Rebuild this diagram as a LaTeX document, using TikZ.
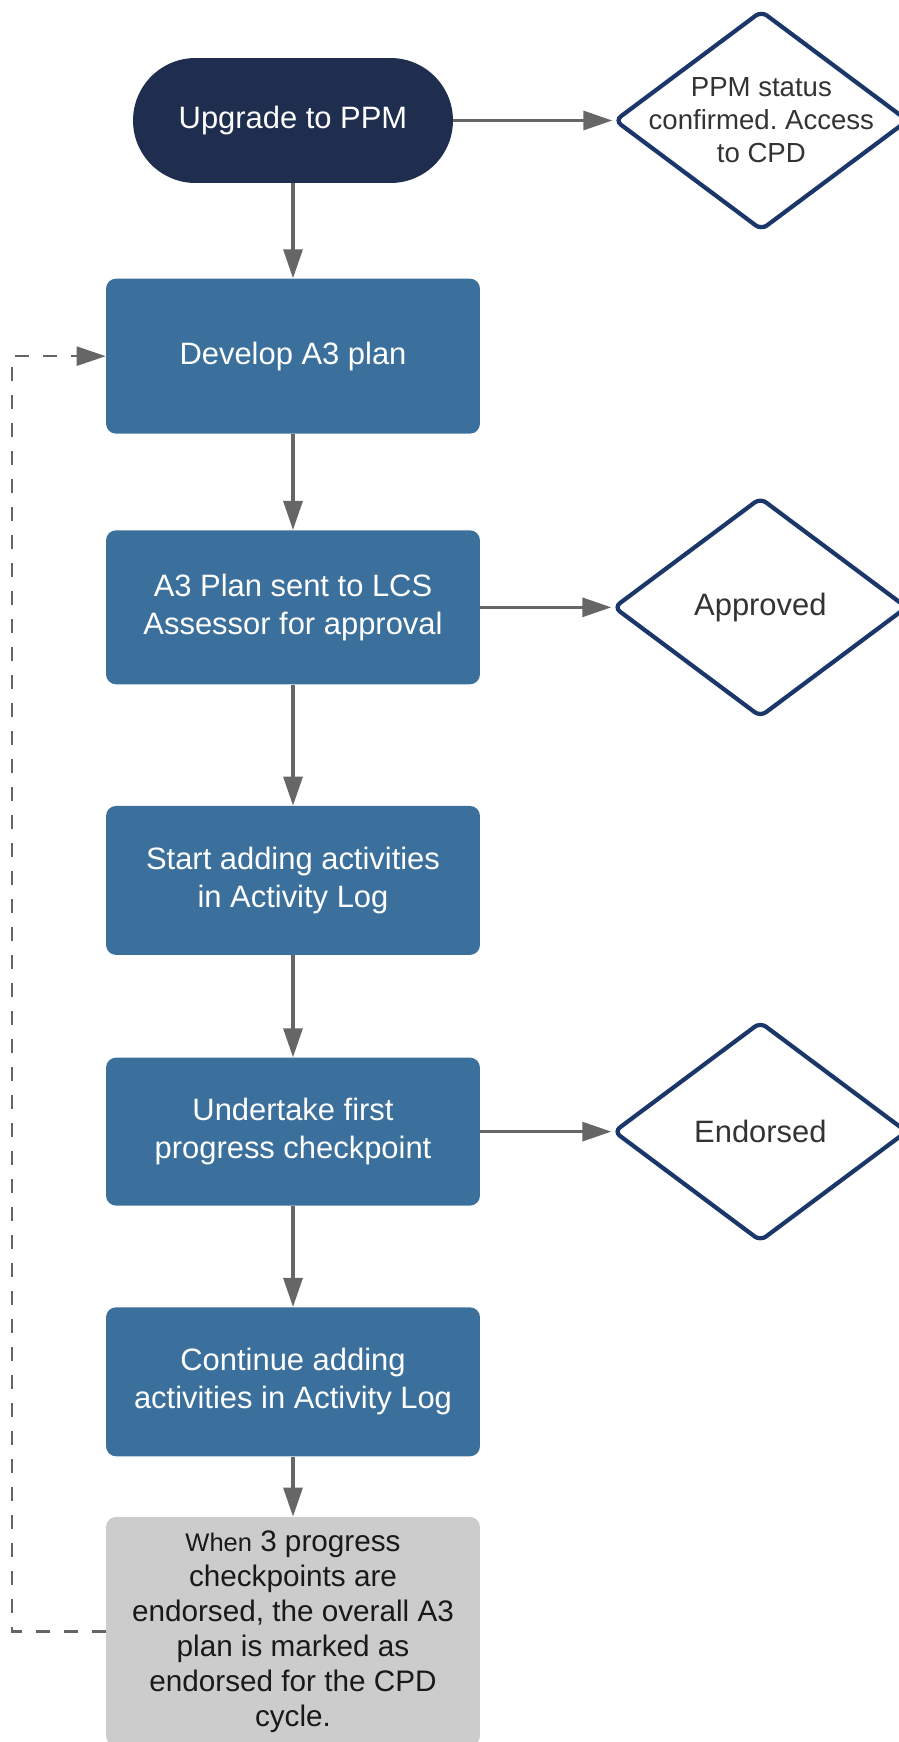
\documentclass[tikz,border=0pt]{standalone}
\usepackage{fontspec}
\setmainfont{Liberation Sans}
\usetikzlibrary{positioning,shapes.geometric,arrows.meta}
\frenchspacing

\definecolor{termnavy}{RGB}{31,45,79}
\definecolor{stepblue}{RGB}{60,112,156}
\definecolor{diaborder}{RGB}{27,55,105}
\definecolor{notegrey}{RGB}{204,204,204}
\definecolor{linegrey}{RGB}{102,102,102}

\tikzstyle{terminal} = [rectangle, rounded corners=1.25cm, fill=termnavy, text=white, minimum width=6.4cm, minimum height=2.5cm, font=\fontsize{17.6}{21.6}\selectfont]
\tikzstyle{process} = [rectangle, rounded corners=0.2cm, fill=stepblue, text=white, align=center, minimum width=7.48cm, font=\fontsize{17.6}{21.6}\selectfont]
\tikzstyle{note} = [rectangle, rounded corners=0.2cm, fill=notegrey, text=black!90, align=center, minimum width=7.48cm, inner sep=2pt, font=\fontsize{16.9}{19.9}\selectfont]
\tikzstyle{decision} = [diamond, draw=diaborder, line width=2.4pt, rounded corners=4pt, fill=white, minimum width=5.88cm, minimum height=4.4cm, inner sep=0pt]
\tikzstyle{dtext} = [align=center, text=black!80, font=\fontsize{17.6}{21.6}\selectfont]
\tikzstyle{flow} = [draw=linegrey, line width=1.8pt, -{Triangle[length=0.58cm,width=0.38cm]}]
\tikzstyle{loopback} = [flow, line width=1.4pt, dash pattern=on 0.28cm off 0.28cm]

\begin{document}
\begin{tikzpicture}[x=0.02cm, y=-0.02cm]
\useasboundingbox (0,0) rectangle (899,1742);

% main column
\node[terminal] (term) at (293,120.5) {Upgrade to PPM};
\node[process, minimum height=3.1cm, below=1.9cm of term] (plan) {Develop A3 plan};
\node[process, minimum height=3.08cm, below=1.92cm of plan] (send) {A3 Plan sent to LCS\\Assessor for approval};
\node[process, minimum height=2.98cm, below=2.42cm of send] (start) {Start adding activities\\in Activity Log};
\node[process, minimum height=2.96cm, below=2.04cm of start] (check) {Undertake first\\progress checkpoint};
\node[process, minimum height=2.98cm, below=2.02cm of check] (cont) {Continue adding\\activities in Activity Log};
\node[note, minimum height=4.58cm, below=1.2cm of cont] (done) {{\fontsize{14.5}{19.9}\selectfont When} 3 progress\\checkpoints are\\endorsed, the overall A3\\plan is marked as\\endorsed for the CPD\\cycle.};

% outcomes
\node[decision, right=3.18cm of term, label={[dtext, font=\fontsize{15.7}{18.8}\selectfont]center:PPM status\\confirmed. Access\\to CPD}] (ppm) {};
\node[decision, right=2.62cm of send, label={[dtext]center:Approved}] (appr) {};
\node[decision, right=2.62cm of check, label={[dtext]center:Endorsed}] (endo) {};

% connectors
\draw[flow] (term) -- (plan);
\draw[flow] (plan) -- (send);
\draw[flow] (send) -- (start);
\draw[flow] (start) -- (check);
\draw[flow] (check) -- (cont);
\draw[flow] (cont) -- (done);
\draw[flow] (term.east) -- (ppm.west);
\draw[flow] (send.east) -- (appr.west);
\draw[flow] (check.east) -- (endo.west);

% back to the plan
\coordinate (back) at (12,0);
\draw[loopback] (done.west) -| (back |- plan.west) -- (plan.west);
\end{tikzpicture}
\end{document}
